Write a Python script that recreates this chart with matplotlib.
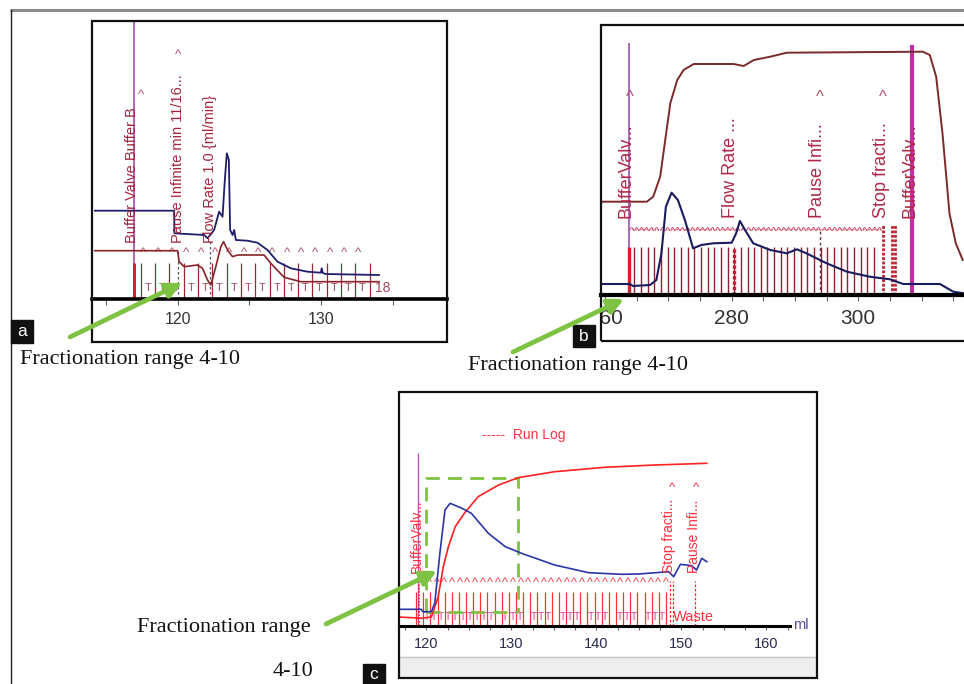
import numpy as np
import matplotlib
matplotlib.use("Agg")
import matplotlib.pyplot as plt
from matplotlib.patches import Rectangle

# ---------------- data ----------------
# Panel a (ml vs signal height)
a_navy_ml = [114.2, 119.74, 119.76, 121.84, 122.07, 122.53, 122.88, 123.12, 123.28, 123.42, 123.56,
             123.65, 123.82, 123.93, 124.05, 124.86, 125.56, 126.26, 126.96, 127.89, 129.05, 129.98,
             130.05, 130.12, 130.33, 134.05]
a_navy_val = [88.3, 88.3, 65.7, 64, 60.7, 69, 87.3, 82.3, 119, 145.7, 139, 69, 64, 69, 59, 58.3, 56.3,
              49, 37.3, 30.7, 27.3, 26.3, 30.7, 26, 25, 24]
a_red_ml = [114.2, 119.98, 120.09, 120.44, 121.37, 121.72, 122.07, 122.30, 122.65, 123.0, 123.19,
            123.47, 123.82, 124.17, 126.02, 126.49, 127.42, 128.58, 134.05]
a_red_val = [48.3, 48.3, 37.3, 32.3, 34, 30.7, 19, 14, 32.3, 52.3, 57.3, 49, 42.3, 44, 44, 35.7, 21.7,
             17.3, 17.3]
a_fractions = [117.4 + i for i in range(17)]
a_carets = [117.6 + i for i in range(16)]
a_ticks = [115, 120, 125, 130, 135]
a_ticklabels = [120, 130]
a_events = [(116.8, "Buffer Valve Buffer B"), (120.0, "Pause Infinite min 11/16..."),
            (122.25, "Flow Rate 1.0 {ml/min}")]

# Panel b
b_brown_ml = [259.4, 266.6, 267.6, 268.7, 269.5, 270.3, 271.4, 272.4, 274.0, 280.3, 281.9, 283.5,
              286.1, 288.7, 310.2, 311.3, 312.3, 313.3, 314.4, 315.4, 316.5]
b_brown_val = [93.3, 93.3, 98.3, 118.3, 155, 191.7, 215, 225, 231, 231, 229, 235, 238.3, 242.3,
               243.3, 240, 218.3, 161.7, 81.7, 51.7, 35]
b_navy_ml = [259.4, 263.9, 264.4, 267.1, 268.1, 268.9, 269.6, 270.5, 271.5, 272.6, 273.9, 275.2,
             277.1, 280.0, 280.7, 281.3, 282.1, 283.4, 286.1, 288.7, 290.3, 291.8, 295.0, 298.2,
             301.8, 305.0, 307.1, 312.9, 315.0, 316.7]
b_navy_val = [11, 11, 9, 10, 15, 41.7, 88.3, 102.3, 95, 75, 46.7, 50, 51.7, 52.3, 61.7, 74, 65, 51.7,
              45, 41.7, 45.7, 41.7, 31.7, 23.3, 18.3, 15.7, 11, 11, 3.3, 1.7]
b_fractions = list(np.linspace(264.6, 302.5, 37))
b_carets = list(np.arange(264.2, 303.8, 0.8))
b_ticks = [260, 265, 270, 275, 280, 285, 290, 295, 300, 305, 310, 315]
b_ticklabels = [260, 280, 300]
b_events = [(263.3, "BufferValv..."), (279.8, "Flow Rate ..."), (293.6, "Pause Infi..."),
            (303.6, "Stop fracti..."), (308.1, "BufferValv...")]

# Panel c
c_red_ml = [116.7, 119.5, 120.6, 121.4, 122.0, 122.6, 123.4, 124.5, 126.1, 128.5, 130.8, 135.1,
            141.0, 146.9, 153.0]
c_red_val = [8.7, 7.5, 8.7, 29, 59, 79, 99, 112.7, 129, 140.7, 148, 154, 158.4, 160.7, 162.4]
c_blue_ml = [116.7, 119.4, 119.6, 120.6, 121.0, 121.6, 122.2, 122.8, 124.2, 125.3, 127.3, 129.3,
             131.2, 135.1, 139.1, 143.0, 145.0, 148.5, 149.1, 149.9, 151.2, 151.8, 152.4, 153.0]
c_blue_val = [16.4, 16.4, 14, 14, 22.7, 72.7, 115.7, 122.4, 117.4, 112.4, 92.4, 79, 72.4, 60.7, 53,
              51.4, 51.7, 54, 49, 61.4, 60, 55.7, 67.4, 64]
c_fractions = list(np.linspace(118.8, 148.2, 36))
c_carets = list(np.linspace(120.3, 148.2, 32))
c_ticks = [117.5 + 2.5 * i for i in range(19)]
c_ticklabels = [120, 130, 140, 150, 160]
c_events = [(118.9, "BufferValv..."), (148.6, "Stop fracti..."), (151.5, "Pause Infi...")]

# ---------------- figure ----------------
W, H = 964, 684
fig = plt.figure(figsize=(W / 100, H / 100), dpi=100)
SANS = ["Liberation Sans", "DejaVu Sans"]
SERIF = ["Liberation Serif", "DejaVu Serif"]
GREEN = "#7dc242"


def px_axes(x0, y0, x1, y1, z=1):
    ax = fig.add_axes([x0 / W, 1 - y1 / H, (x1 - x0) / W, (y1 - y0) / H], zorder=z)
    return ax


bg = px_axes(0, 0, W, H, z=0)
bg.set_xlim(0, W)
bg.set_ylim(H, 0)
bg.axis("off")
bg.plot([10, W], [10, 10], color="#8a8a8a", lw=2.2, solid_capstyle="butt")
bg.plot([11, 11], [10, H], color="#222222", lw=1.0)


def setup(ax, xlim, ylim, ticks, lw_axis, bounds=None, ticklen=4):
    ax.set_xlim(*xlim)
    ax.set_ylim(*ylim)
    for s in ("top", "left", "right"):
        ax.spines[s].set_visible(False)
    ax.spines["bottom"].set_position(("data", 0))
    ax.spines["bottom"].set_linewidth(lw_axis)
    ax.spines["bottom"].set_zorder(6)
    if bounds:
        ax.spines["bottom"].set_bounds(*bounds)
    ax.set_yticks([])
    ax.set_xticks(ticks)
    ax.set_xticklabels([])
    ax.tick_params(axis="x", direction="out", length=ticklen, width=0.8, color="#666666")
    ax.add_patch(Rectangle((0, 0), 1, 1, transform=ax.transAxes, fill=False, ec="#111111",
                           lw=1.6, clip_on=False, zorder=10))


def carets(ax, xs, y, size, color):
    for x in xs:
        ax.text(x, y, "^", ha="center", va="center", fontsize=size, color=color, family=SANS,
                zorder=4)


# ---------------- panel a ----------------
axa = px_axes(92, 21, 447, 342)
setup(axa, (114.0, 138.8), (-43, 278), a_ticks, 2.6)
for t in a_ticklabels:
    axa.text(t, -21, str(t), ha="center", va="center", fontsize=11.5, color="#333333", family=SANS)
axa.vlines(a_fractions, 0, 35.7, color="#9a2a3a", lw=0.9, zorder=3)
for x0, x1 in zip(a_fractions[1:-1], a_fractions[2:]):
    axa.text((x0 + x1) / 2, 11, "T", ha="center", va="center", fontsize=8, color="#a04a5a", family=SANS)
axa.text(117.9, 11, "T", ha="center", va="center", fontsize=8, color="#a04a5a", family=SANS)
axa.text(133.8, 11, "18", ha="left", va="center", fontsize=10, color="#a04a5a", family=SANS)
carets(axa, a_carets, 46, 9.5, "#b05068")
axa.vlines(116.9, 0, 278, color="#9b50a8", lw=1.2, zorder=4)
axa.vlines(116.9, 0, 35.7, color="#d42030", lw=2.2, zorder=5)
axa.vlines([120.0, 122.25], 0, [48, 60], color="#555555", lw=0.9, linestyles=(0, (2, 2)), zorder=4)
axa.plot(a_red_ml, a_red_val, color="#8b2328", lw=1.2, zorder=5)
axa.plot(a_navy_ml, a_navy_val, color="#1e1e6a", lw=1.3, zorder=5)
for x, s in a_events:
    axa.text(x, 56, s, rotation=90, ha="center", va="bottom", fontsize=10.5, color="#a3253f",
             family=SANS, zorder=6)
axa.text(117.4, 204, "^", ha="center", va="center", fontsize=9.5, color="#b05068", family=SANS)
axa.text(120.0, 244, "^", ha="center", va="center", fontsize=9.5, color="#b05068", family=SANS)

# ---------------- panel b ----------------
bx0, bx1 = 600.7, 990
b_l = 260 + (bx0 - 605.1) / 6.33
b_r = 260 + (bx1 - 605.1) / 6.33
axb = px_axes(bx0, 25, bx1, 341)
setup(axb, (b_l, b_r), (-46, 270), b_ticks, 3.0)
for t in b_ticklabels:
    axb.text(t, -24, str(t), ha="center", va="center", fontsize=15, color="#333333", family=SANS,
             clip_on=True)
axb.vlines(b_fractions, 0, 48.3, color="#8b2232", lw=1.0, zorder=3)
axb.plot([264.2, 303.7], [65.7, 65.7], color="#e07080", lw=1.0, ls=(0, (1, 1)), zorder=3)
carets(axb, b_carets, 63, 8, "#d04060")
axb.vlines(263.7, 0, 251.7, color="#a050b0", lw=1.2, zorder=4)
axb.vlines(263.7, 0, 48, color="#d42030", lw=2.4, zorder=5)
axb.vlines(280.3, 0, 48, color="#c02030", lw=2.4, linestyles=(0, (1, 0.6)), zorder=5)
axb.vlines(293.9, 0, 65, color="#553333", lw=1.0, linestyles=(0, (2, 2)), zorder=5)
axb.vlines([303.9, 305.3, 305.8], 0, 70, color="#c02030", lw=2.0, linestyles=(0, (1, 0.6)), zorder=5)
axb.vlines(308.5, 0, 250, color="#c030a0", lw=3.0, zorder=5)
axb.plot(b_brown_ml, b_brown_val, color="#7a2a2a", lw=1.4, zorder=5)
axb.plot(b_navy_ml, b_navy_val, color="#1a1a5e", lw=1.5, zorder=6)
for x, s in b_events:
    axb.text(x, 76.7, s, rotation=90, ha="center", va="bottom", fontsize=13, color="#b0284a",
             family=SANS, zorder=6)
for x in (263.9, 293.9, 303.9):
    axb.text(x, 198, "^", ha="center", va="center", fontsize=12, color="#b05068", family=SANS)

# ---------------- panel c ----------------
cx0, cx1 = 399, 817
c_l = 120 + (cx0 - 426.3) / 8.5
c_r = 120 + (cx1 - 426.3) / 8.5
c_end = 120 + (790 - 426.3) / 8.5
axc = px_axes(cx0, 392, cx1, 678)
setup(axc, (c_l, c_r), (-52.3, 233.7), c_ticks, 2.2, bounds=(c_l, c_end), ticklen=3)
axc.axhspan(-51.5, -31.3, color="#eeeeee", zorder=1)
axc.axhline(-31.3, color="#c4c4c4", lw=1.0, zorder=2)
for t in c_ticklabels:
    axc.text(t, -18.5, str(t), ha="center", va="center", fontsize=10.5, color="#2a2a50", family=SANS)
axc.text(c_end + 0.3, 0.5, "ml", ha="left", va="center", fontsize=10.5, color="#5a4a9a", family=SANS)
axc.vlines(c_fractions, 0, 33.7, color="#ff3030", lw=0.9, zorder=3)
for i, (x0, x1) in enumerate(zip(c_fractions[:-1], c_fractions[1:])):
    if i >= 1 and not (i >= 8 and i % 4 == 3):
        axc.text((x0 + x1) / 2, 8.7, "T", ha="center", va="center", fontsize=7.5, color="#e0409a",
                 family=SANS, zorder=3)
carets(axc, c_carets, 42.5, 9, "#ff4050")
axc.vlines(118.98, 0, 173, color="#c050c0", lw=1.0, zorder=4)
axc.vlines(119.1, 0, 45, color="#ff2020", lw=1.2, linestyles=(0, (1, 1)), zorder=4)
axc.vlines([148.7, 149.0, 151.6], 0, 45, color="#ff2020", lw=0.9, linestyles=(0, (2, 1.5)), zorder=4)
axc.plot([120.0, 120.0, 130.8, 130.8], [14, 147.4, 147.4, 14], color=GREEN, lw=2.0,
         ls=(0, (5, 3)), zorder=4)
axc.plot([120.0, 130.8], [14, 14], color=GREEN, lw=2.0, ls=(0, (5, 3)), zorder=4)
axc.plot(c_red_ml, c_red_val, color="#ff2020", lw=1.2, zorder=5)
axc.plot(c_blue_ml, c_blue_val, color="#2b35a8", lw=1.2, zorder=5)
for x, s in c_events:
    axc.text(x, 52.3, s, rotation=90, ha="center", va="bottom", fontsize=10, color="#ff3040",
             family=SANS, zorder=6)
for x in (148.9, 151.7):
    axc.text(x, 137.4, "^", ha="center", va="center", fontsize=9.5, color="#ff3040", family=SANS)
axc.text(149.0, 8.7, "Waste", ha="left", va="center", fontsize=10.5, color="#ff3040", family=SANS,
         zorder=6)
axc.text(126.5, 190.7, "-----  Run Log", ha="left", va="center", fontsize=10, color="#ff3040",
         family=SANS)

# ---------------- overlay: arrows, labels, captions ----------------
ov = px_axes(0, 0, W, H, z=20)
ov.set_xlim(0, W)
ov.set_ylim(H, 0)
ov.axis("off")
ov.patch.set_alpha(0)
for tail, head in [((70, 337), (182, 283)), ((513, 352), (624, 299)), ((326, 624), (437, 571))]:
    ov.annotate("", xy=head, xytext=tail,
                arrowprops=dict(arrowstyle="-|>,head_length=0.9,head_width=0.45", color=GREEN, lw=3.4,
                                shrinkA=0, shrinkB=0))
for (x0, y0, x1, y1, s) in [(10.5, 320, 33, 342.5, "a"), (573, 325, 595, 347, "b"),
                            (363, 664, 385, 684, "c")]:
    ov.add_patch(Rectangle((x0, y0), x1 - x0, y1 - y0, color="#111111"))
    ov.text((x0 + x1) / 2, (y0 + y1) / 2 + 0.5, s, ha="center", va="center", color="white",
            fontsize=12.5, family=SANS)
ov.text(20.5, 364, "Fractionation range 4-10", ha="left", va="baseline", fontsize=16, family=SERIF,
        color="#111111")
ov.text(468, 370, "Fractionation range 4-10", ha="left", va="baseline", fontsize=16, family=SERIF,
        color="#111111")
ov.text(137, 632, "Fractionation range", ha="left", va="baseline", fontsize=16, family=SERIF,
        color="#111111")
ov.text(273, 676, "4-10", ha="left", va="baseline", fontsize=16, family=SERIF, color="#111111")

fig.savefig("out.png", dpi=100)
